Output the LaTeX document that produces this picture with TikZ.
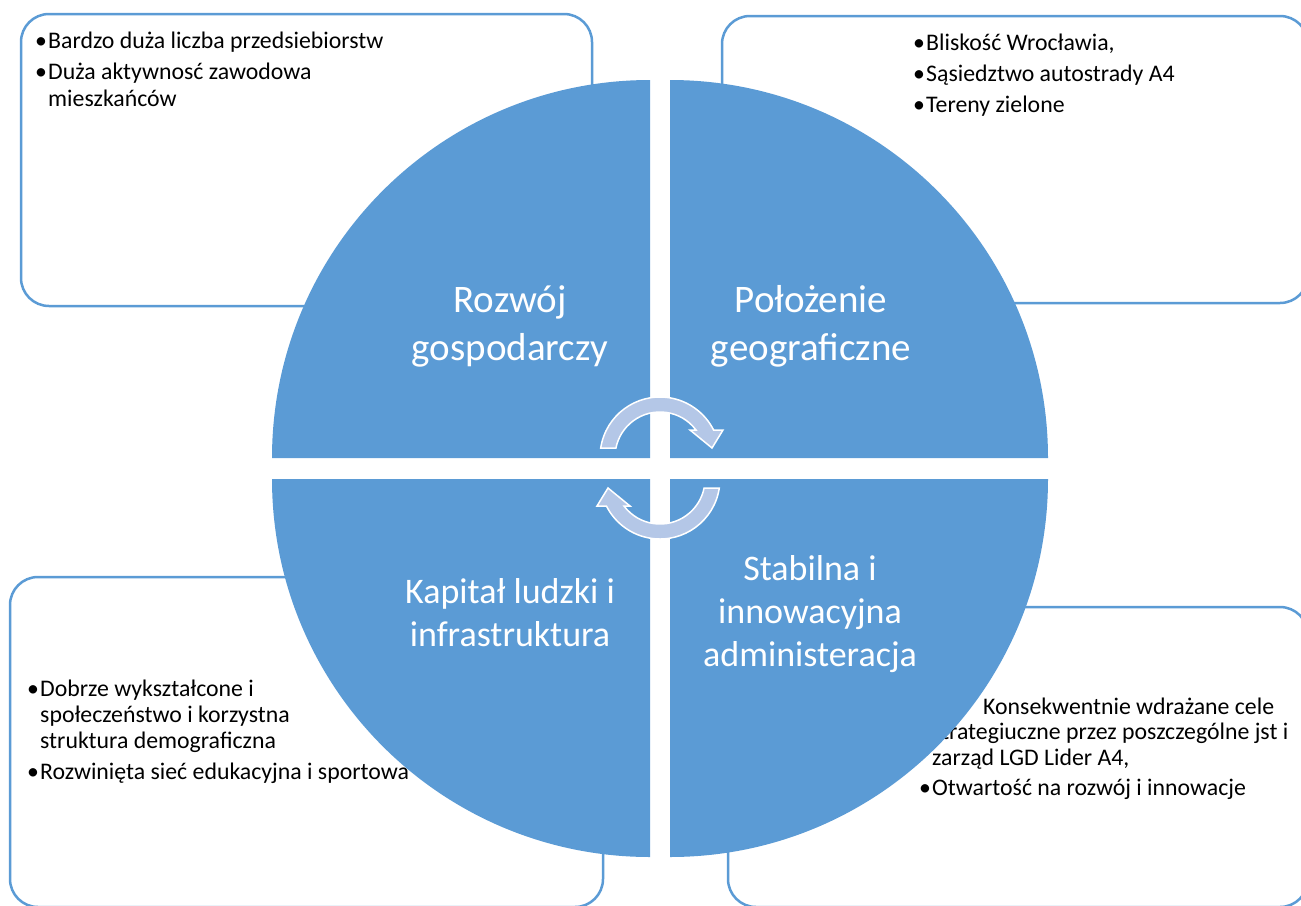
\documentclass[tikz,border=0pt]{standalone}
\usepackage{fontspec}
\setmainfont{Carlito}
\definecolor{qblue}{HTML}{5B9BD5}
\definecolor{arrblue}{HTML}{B4C7E7}
\newcommand\bpt[1]{\hbox{\makebox[13pt][l]{•}#1}}
\newcommand\cpt[1]{\hbox{\hspace*{13pt}#1}}
\begin{document}
\begin{tikzpicture}[x=1pt,y=-1pt,
  panel/.style={draw=qblue, line width=2.5pt, rounded corners=28pt, rectangle, inner sep=0pt, fill=white},
  boxtext/.style={anchor=base west, inner sep=0pt, font=\fontsize{23.8}{27}\selectfont, text=black},
  quad/.style={fill=qblue},
  qlabel/.style={text=white, align=center, inner sep=0pt},
  toplabel/.style={qlabel, font=\fontsize{39}{48}\selectfont},
  botlabel/.style={qlabel, font=\fontsize{36}{43}\selectfont},
  cyc/.style={fill=arrblue, draw=white, line width=1.5pt, line join=miter}]
\useasboundingbox (0,0) rectangle (1301,905);
% outer boxes
\node[panel, minimum width=571pt, minimum height=292pt] (boxTL) at (306.5,160) {};
\node[panel, minimum width=586pt, minimum height=287pt] (boxTR) at (1015,159.5) {};
\node[panel, minimum width=593pt, minimum height=330pt] (boxBL) at (306.5,742) {};
\node[panel, minimum width=580pt, minimum height=300pt] (boxBR) at (1018,757) {};
% box texts
\node[boxtext] (tTL) at (35,48) {\vtop{\baselineskip=27pt
  \bpt{Bardzo duża liczba przedsiebiorstw}\vskip4pt
  \bpt{Duża aktywnosć zawodowa}
  \cpt{mieszkańców}}};
\node[boxtext] (tTR) at (913,50) {\vtop{\baselineskip=27pt
  \bpt{Bliskość Wrocławia,}\vskip4pt
  \bpt{Sąsiedztwo autostrady A4}\vskip4pt
  \bpt{Tereny zielone}}};
\node[boxtext] (tBL) at (27,696) {\vtop{\baselineskip=26pt
  \bpt{Dobrze wykształcone i}
  \cpt{społeczeństwo i korzystna}
  \cpt{struktura demograficzna}\vskip5pt
  \bpt{Rozwinięta sieć edukacyjna i sportowa}}};
\node[boxtext] (tBR) at (919,714) {\vtop{\baselineskip=25.5pt
  \hbox{\makebox[64pt][l]{•}Konsekwentnie wdrażane cele}
  \cpt{strategiuczne przez poszczególne jst i}
  \cpt{zarząd LGD Lider A4,}\vskip5pt
  \bpt{Otwartość na rozwój i innowacje}}};
% circle quadrants
\fill[quad] (650,458) -- (272,458) arc[start angle=180, end angle=90, radius=378pt] -- cycle;
\fill[quad] (670,458) -- (670,80) arc[start angle=90, end angle=0, radius=378pt] -- cycle;
\fill[quad] (650,479) -- (272,479) arc[start angle=180, end angle=270, radius=378pt] -- cycle;
\fill[quad] (670,479) -- (1048,479) arc[start angle=0, end angle=-90, radius=378pt] -- cycle;
% labels
\node[toplabel] (lTL) at (510,326) {Rozwój\\gospodarczy};
\node[toplabel] (lTR) at (811,326) {Położenie\\geograficzne};
\node[botlabel] (lBL) at (510,613) {Kapitał ludzki i\\infrastruktura};
\node[botlabel] (lBR) at (810,614) {Stabilna i\\innowacyjna\\administeracja};
% cycle arrows
\draw[cyc] (600.7,448) arc[start angle=171.37, end angle=26.74, radius=60pt]
  -- (723,430) -- (712,448) -- (690,430) -- (696,430)
  arc[start angle=36.87, end angle=168.46, radius=45pt] -- cycle;
\draw[cyc] (719.3,488) arc[start angle=-8.63, end angle=-153.26, radius=60pt]
  -- (597,506) -- (608,488) -- (630,506) -- (624,506)
  arc[start angle=-143.13, end angle=-11.54, radius=45pt] -- cycle;
\end{tikzpicture}
\end{document}
